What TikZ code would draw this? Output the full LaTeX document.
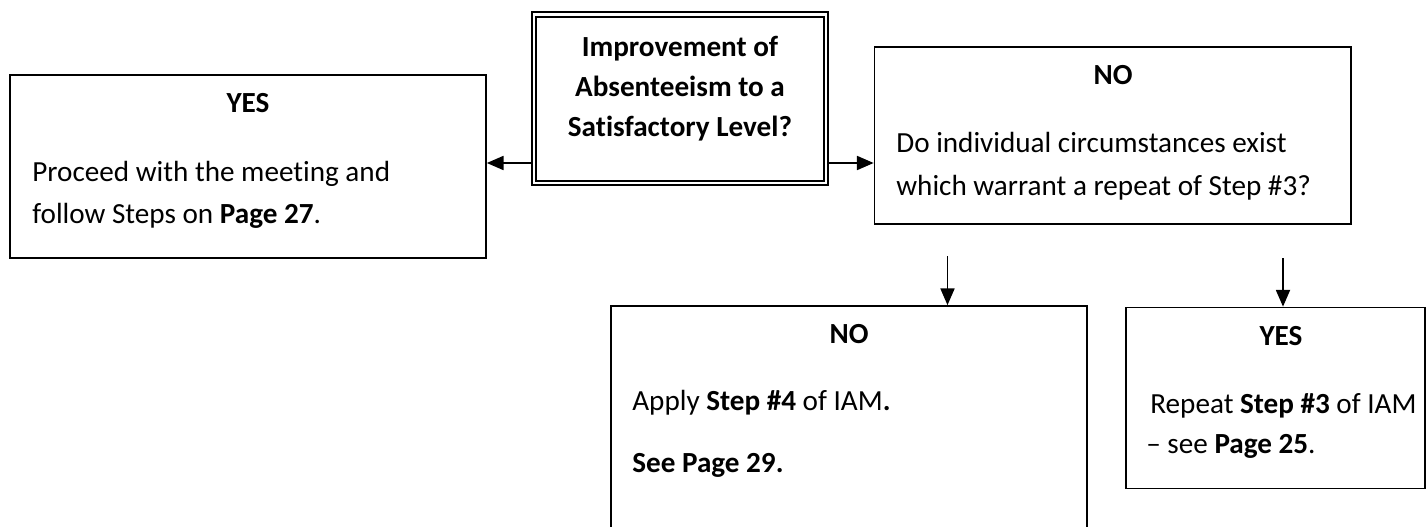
\documentclass[tikz,border=0pt]{standalone}
\usepackage{fontspec}
\setmainfont{Carlito}[Ligatures=NoCommon]
\usetikzlibrary{arrows.meta}

\begin{document}
\begin{tikzpicture}[
    x=0.02cm, y=-0.02cm,
    box/.style={rectangle, draw=black, line width=1pt, inner sep=0pt},
    question/.style={rectangle, draw=black, line width=1.2pt, double, double distance=1.5pt, inner sep=0pt},
    head/.style={font=\fontsize{16.6}{20}\selectfont\bfseries, inner sep=0pt, anchor=base},
    txt/.style={font=\fontsize{16.6}{20}\selectfont, inner sep=0pt, anchor=base west},
    arr/.style={-{Triangle[length=9.5pt,width=8pt]}, line width=0.9pt}
]
\path[use as bounding box, clip] (0,0) rectangle (1428,527);

% Boxes
\node[question, minimum width=5.84cm, minimum height=3.37cm] (q) at (680,98.75) {};
\node[box, minimum width=9.52cm, minimum height=3.66cm] (yes) at (248,166.5) {};
\node[box, minimum width=9.53cm, minimum height=3.54cm] (no) at (1112.75,135.8) {};
\node[box, minimum width=9.52cm, minimum height=5.08cm] (notwo) at (849,433) {};
\node[box, minimum width=5.98cm, minimum height=3.62cm] (yestwo) at (1275.5,398) {};

% Texts
\node[head] (qa) at (680,57) {Improvement of};
\node[head] (qb) at (680,97) {Absenteeism to a};
\node[head] (qc) at (680,137) {Satisfactory Level?};

\node[head] (yeshead) at (248,113) {YES};
\node[txt] (yesa) at (32,182) {Proceed with the meeting and};
\node[txt] (yesb) at (32,223) {follow Steps on \textbf{Page 27}.};

\node[head] (nohead) at (1113,85) {NO};
\node[txt] (noa) at (896,153) {Do individual circumstances exist};
\node[txt] (nob) at (896,195) {which warrant a repeat of Step \#3?};

\node[head] (notwohead) at (849,343) {NO};
\node[txt] (notwoa) at (632,410) {Apply \textbf{Step \#4} of IAM\textbf{.}};
\node[txt] (notwob) at (632,472) {\textbf{See Page 29.}};

\node[head] (yestwohead) at (1281,345) {YES};
\node[txt] (yestwoa) at (1150,413) {Repeat \textbf{Step \#3} of IAM};
\node[txt] (yestwob) at (1146,453) {– see \textbf{Page 25}.};

% Arrows
\coordinate (mid) at (0,163);
\coordinate (downl) at (947.5,256);
\coordinate (downr) at (1283,258);
\draw[arr] (q.west |- mid) -- (yes.east |- mid);
\draw[arr] (q.east |- mid) -- (no.west |- mid);
\draw[arr] (downl) -- (downl |- notwo.north);
\draw[arr] (downr) -- (downr |- yestwo.north);

\end{tikzpicture}
\end{document}
